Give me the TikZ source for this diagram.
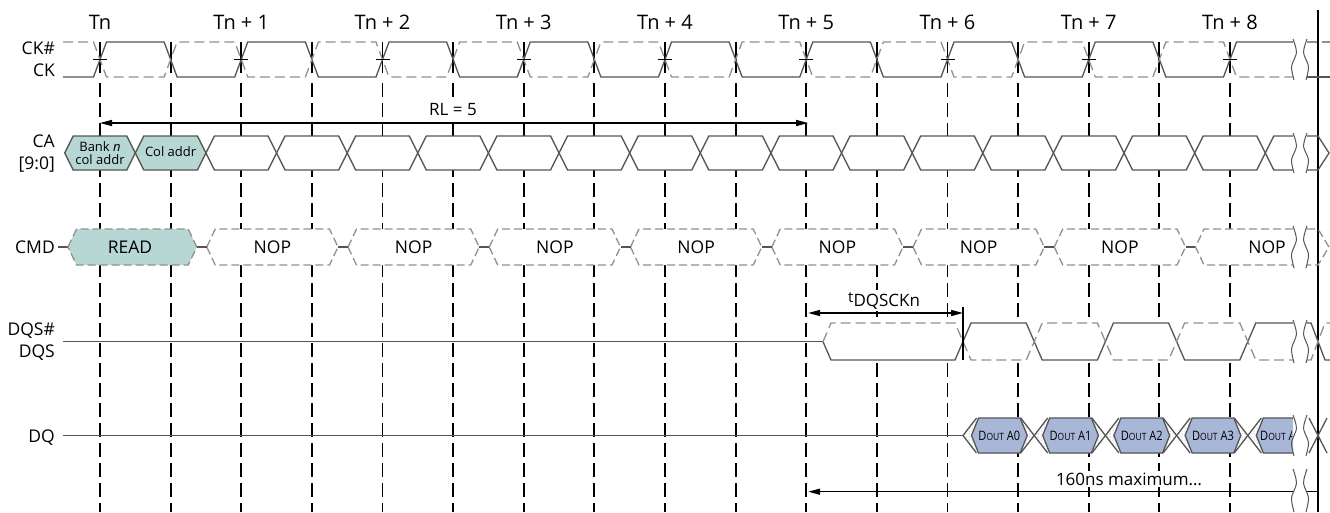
\documentclass[tikz,border=0pt]{standalone}
\usepackage{fontspec}
\setmainfont{Open Sans}
\usetikzlibrary{arrows.meta,patterns}
\definecolor{tealf}{RGB}{183,215,212}
\definecolor{bluef}{RGB}{168,182,216}
\definecolor{wv}{RGB}{85,85,85}
\definecolor{wvd}{RGB}{145,145,145}
\tikzset{
  wave/.style={draw=wv, line width=1.3pt},
  wavedash/.style={draw=wvd, line width=1.3pt, dash pattern=on 10pt off 5pt},
  gridline/.style={draw=black, line width=1.8pt, dash pattern=on 14pt off 6pt},
  cabox/.style={draw=wv, line width=1.3pt},
  cmdbox/.style={draw=wvd, line width=1.3pt, dash pattern=on 8pt off 4pt},
  arr/.style={draw=black, line width=1.4pt},
  tipL/.style={{Triangle[length=12pt,width=6pt]}-},
  tipLR/.style={{Triangle[length=12pt,width=6pt]}-{Triangle[length=12pt,width=6pt]}},
  lbl/.style={anchor=base east, inner sep=0pt, font=\fontsize{17.5}{17.5}\selectfont},
  hdr/.style={anchor=base, inner sep=0pt, font=\fontsize{20}{20}\selectfont},
  boxtxt/.style={anchor=base, inner sep=0pt, font=\fontsize{17.5}{17.5}\selectfont},
  small/.style={inner sep=0pt, font=\fontsize{13}{12.5}\selectfont, align=center},
  dtxt/.style={anchor=base, inner sep=0pt, font=\fontsize{13}{13}\selectfont},
  brk/.style={draw=wv, line width=1pt},
  note/.style={inner sep=2pt, fill=white, font=\fontsize{17}{17}\selectfont},
}
\newcommand\wavebrk[2]{%
  \pgfmathsetmacro\bh{#2-#1}%
  \draw[brk] plot[smooth] coordinates {(1293,{#1-3}) (1296.5,{#1+0.3*\bh}) (1291.5,{#1+0.7*\bh}) (1294,{#2+3})};
  \draw[brk] plot[smooth] coordinates {(1307,{#1-3}) (1303.5,{#1+0.3*\bh}) (1308.5,{#1+0.7*\bh}) (1306,{#2+3})};
}
\newcommand\doutlbl[1]{\scalebox{0.85}[1]{D{\fontsize{10}{10}\selectfont OUT} A#1}}
\begin{document}
\begin{tikzpicture}[x=1pt,y=-1pt]
\useasboundingbox (0,0) rectangle (1330,512);
\fill[white] (0,0) rectangle (1330,512);

% headers
\node[hdr] (h0) at (100,29.5) {Tn};
\foreach \k in {1,...,8} \node[hdr] (h\k) at ({100+\k*141.25},29.5) {Tn + \k};

% right solid marker line
\draw[black, line width=1.2pt] (1318,10) -- (1318,512);

% grid lines
\foreach \j in {0,...,16}{
  \pgfmathsetmacro\gx{100+\j*70.625}
  \draw[black, line width=1.8pt] (\gx,42) -- (\gx,73);
  \draw[gridline] (\gx,83) -- (\gx,512);
}

% labels
\node[lbl] (lckb) at (55,54) {CK\#};
\node[lbl] (lck) at (55,76) {CK};
\node[lbl] (lca) at (55,147) {CA};
\node[lbl] (lcab) at (55,169) {[9:0]};
\node[lbl] (lcmd) at (55,253) {CMD};
\node[lbl] (ldqsb) at (55,335) {DQS\#};
\node[lbl] (ldqs) at (55,357) {DQS};
\node[lbl] (ldq) at (55,442) {DQ};

% clock
\draw[wave] (63,77) foreach \i in {0,...,7} { -- ({100+\i*141.25-6.5},77) -- ({100+\i*141.25+6.5},42) -- ({170.625+\i*141.25-6.5},42) -- ({170.625+\i*141.25+6.5},77) } -- (1223.5,77) -- (1236.5,42) -- (1293,42);
\draw[wavedash] (63,42) foreach \i in {0,...,7} { -- ({100+\i*141.25-6.5},42) -- ({100+\i*141.25+6.5},77) -- ({170.625+\i*141.25-6.5},77) -- ({170.625+\i*141.25+6.5},42) } -- (1223.5,42) -- (1236.5,77) -- (1293,77);
\foreach \i in {0,...,8} \draw[black, line width=1.1pt] ({100+\i*141.25-7},59.5) -- ++(14,0);
\draw[wave] (1307,77) -- (1330,77);
\draw[wavedash] (1307,42) -- (1330,42);
\wavebrk{42}{77}

% RL arrow
\coordinate (rlL) at (100,123);
\coordinate (rlR) at (808.125,123);
\draw[arr, tipLR] (rlL) -- (rlR);
\node[note, anchor=base] (rl) at (453,115) {RL = 5};

% CA row
\foreach \m in {2,...,16}{
  \pgfmathsetmacro\caL{100+(\m-0.5)*70.625}
  \pgfmathsetmacro\caR{100+(\m+0.5)*70.625}
  \filldraw[cabox, fill=white] (\caL,153) -- ({\caL+8.5},136) -- ({\caR-8.5},136) -- (\caR,153) -- ({\caR-8.5},170) -- ({\caL+8.5},170) -- cycle;
}
\filldraw[cabox, fill=tealf] (64.69,153) -- (73.19,136) -- (126.81,136) -- (135.31,153) -- (126.81,170) -- (73.19,170) -- cycle;
\filldraw[cabox, fill=tealf] (135.31,153) -- (143.81,136) -- (197.44,136) -- (205.94,153) -- (197.44,170) -- (143.81,170) -- cycle;
\node[small] (ca0) at (100,153) {Bank \textit{n}\\col addr};
\node[small] (ca1) at (170.6,152) {Col addr};
\fill[white] (1265.31,153) -- (1273.81,136) -- (1293,136) -- (1293,170) -- (1273.81,170) -- cycle;
\draw[cabox] (1293,136) -- (1273.81,136) -- (1265.31,153) -- (1273.81,170) -- (1293,170);
\draw[cabox] (1307,136) -- (1318,136) -- (1329,153) -- (1318,170) -- (1307,170);
\wavebrk{136}{170}

% CMD row
\draw[wave] (58,247) -- (68,247);
\filldraw[cmdbox, fill=tealf] (68,247) -- (76.5,229) -- (188.25,229) -- (196.75,247) -- (188.25,265) -- (76.5,265) -- cycle;
\node[boxtxt] (read) at (130,253) {READ};
\foreach \k in {1,...,7}{
  \pgfmathsetmacro\nl{100+\k*141.25-34.5}
  \pgfmathsetmacro\nr{100+(\k+1)*141.25-44.5}
  \filldraw[cmdbox, fill=white] (\nl,247) -- ({\nl+8.5},229) -- ({\nr-8.5},229) -- (\nr,247) -- ({\nr-8.5},265) -- ({\nl+8.5},265) -- cycle;
  \node[boxtxt] (nop\k) at ({(\nl+\nr)/2},253) {NOP};
}
\foreach \k in {0,...,7} \draw[wave] ({100+(\k+1)*141.25-44.5},247) -- ++(10,0);
\fill[white] (1195.5,247) -- (1204,229) -- (1293,229) -- (1293,265) -- (1204,265) -- cycle;
\draw[cmdbox] (1293,229) -- (1204,229) -- (1195.5,247) -- (1204,265) -- (1293,265);
\node[boxtxt] (nop8) at (1267,253) {NOP};
\draw[cmdbox] (1307,229) -- (1318,229) -- (1329,247) -- (1318,265) -- (1307,265);
\wavebrk{229}{265}

% DQS row
\draw[wave] (63,341.7) -- (823,341.7);
\fill[white] (823,341.7) -- (831,323) -- (1293,323) -- (1293,360) -- (831,360) -- cycle;
\draw[wave] (823,341.7) -- (831,360) -- (955,360) -- (971,323) -- (1026.2,323) -- (1042.2,360) -- (1097.4,360) -- (1113.4,323) -- (1168.6,323) -- (1184.6,360) -- (1239.8,360) -- (1255.8,323) -- (1293,323);
\draw[wavedash] (823,341.7) -- (831,323) -- (955,323) -- (971,360) -- (1026.2,360) -- (1042.2,323) -- (1097.4,323) -- (1113.4,360) -- (1168.6,360) -- (1184.6,323) -- (1239.8,323) -- (1255.8,360) -- (1293,360);
\draw[wave] (1307,323) -- (1311,323) -- (1325,360) -- (1330,360);
\draw[wavedash] (1307,360) -- (1311,360) -- (1325,323) -- (1330,323);
\wavebrk{323}{360}

% tDQSCKn
\coordinate (tqL) at (808.125,313);
\coordinate (tqR) at (963,313);
\draw[arr, tipLR] (tqL) -- (tqR);
\draw[black, line width=1.2pt] (963,307) -- (963,360);
\node[note, anchor=base west, font=\fontsize{15}{15}\selectfont] (tq) at (846,302) {t\raisebox{-4.5pt}{\fontsize{17}{17}\selectfont DQSCKn}};

% DQ row
\draw[wave] (63,435.5) -- (963,435.5);
\fill[white] (963,435.5) -- (976.5,418) -- (1293,418) -- (1293,453) -- (976.5,453) -- cycle;
\fill[pattern=dots, pattern color=wvd] (963,435.5) -- (976.5,418) -- (976.5,453) -- cycle;
\foreach \k in {1,...,4}{
  \pgfmathsetmacro\cx{963+71.2*\k}
  \fill[pattern=dots, pattern color=wvd] ({\cx-13.5},418) -- (\cx,435.5) -- ({\cx-13.5},453) -- cycle;
  \fill[pattern=dots, pattern color=wvd] ({\cx+13.5},418) -- (\cx,435.5) -- ({\cx+13.5},453) -- cycle;
}
\foreach \k in {0,...,3}{
  \pgfmathsetmacro\dl{963+71.2*\k+8.5}
  \pgfmathsetmacro\dr{963+71.2*(\k+1)-7}
  \filldraw[cabox, fill=bluef] (\dl,435.5) -- ({\dl+7},418) -- ({\dr-7},418) -- (\dr,435.5) -- ({\dr-7},453) -- ({\dl+7},453) -- cycle;
  \node[dtxt] (dout\k) at ({(\dl+\dr)/2},440.5) {\doutlbl{\k}};
}
\fill[bluef] (1256.3,435.5) -- (1263.3,418) -- (1293,418) -- (1293,453) -- (1263.3,453) -- cycle;
\draw[cabox] (1293,418) -- (1263.3,418) -- (1256.3,435.5) -- (1263.3,453) -- (1293,453);
\begin{scope}
  \clip (1256,410) rectangle (1291,460);
  \node[dtxt, anchor=base west] (dout4) at (1260,440.5) {\doutlbl{4}};
\end{scope}
\draw[wave] (976.5,418) -- (963,435.5) -- (976.5,453);
\foreach \k in {1,...,4}{
  \pgfmathsetmacro\cx{963+71.2*\k}
  \draw[wave] ({\cx-13.5},418) -- ({\cx+13.5},453);
  \draw[wave] ({\cx-13.5},453) -- ({\cx+13.5},418);
}
\draw[wave] (1309,418) -- (1327,453);
\draw[wave] (1309,453) -- (1327,418);
\wavebrk{418}{453}

% 160ns arrow
\coordinate (mxL) at (808.125,491.7);
\coordinate (mxR) at (1293,491.7);
\coordinate (mxR2) at (1307,491.7);
\coordinate (mxE) at (1318,491.7);
\draw[arr, tipL] (mxL) -- (mxR);
\draw[arr] (mxR2) -- (mxE);
\node[note, anchor=base] (mx) at (1129,485) {160ns maximum…};
\wavebrk{472}{509}
\end{tikzpicture}
\end{document}
